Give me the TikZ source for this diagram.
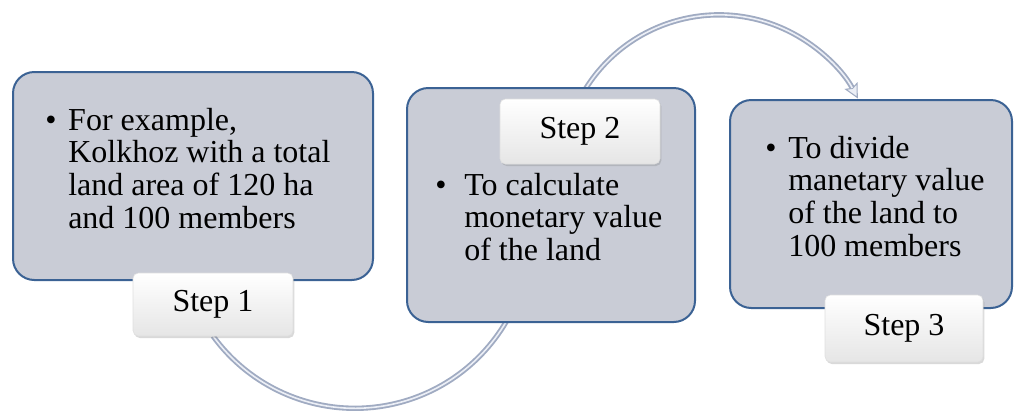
\documentclass[tikz,border=0pt]{standalone}
\usepackage{fontspec}
\setmainfont{Liberation Serif}
\usetikzlibrary{arrows.meta, shadows}

\definecolor{boxfill}{RGB}{201,204,214}
\definecolor{boxline}{RGB}{59,98,148}
\definecolor{tubecol}{RGB}{160,171,194}
\definecolor{tubeshine}{RGB}{236,239,246}

\tikzset{
  stage/.style={draw=boxline, line width=1.5pt, fill=boxfill, rounded corners=16pt},
  tab/.style={rounded corners=4pt, top color=white, bottom color=gray!20, draw=gray!25,
    line width=0.4pt, drop shadow={opacity=0.3, shadow xshift=1pt, shadow yshift=-1.5pt},
    font=\fontsize{24}{24}\selectfont, inner sep=0pt},
  txt/.style={font=\fontsize{24}{24.5}\selectfont, inner sep=0pt, anchor=base west},
  tube/.style={tubecol, line width=4pt},
  shine/.style={tubeshine, line width=1.2pt},
}

\newcommand{\bitem}[2][17.25pt]{\begin{tabular}[t]{@{}p{#1}@{}l@{}}\textbullet &
  \begin{tabular}[t]{@{}l@{}}#2\end{tabular}\end{tabular}}

\begin{document}
\begin{tikzpicture}[x=0.75pt, y=-0.75pt]
    \useasboundingbox (0,0) rectangle (1014,412);

    % named anchor points for the two tubes
    \coordinate (s1foot) at (213,336);
    \coordinate (s2head) at (580,98.5);

    % tube from step 1 to step 2 (runs behind the boxes)
    \draw[tube] (s1foot) arc[start angle=144, end angle=30, radius=175.4];
    \draw[shine] (s1foot) arc[start angle=144, end angle=30, radius=175.4];

    % tube from step 2 to step 3
    \draw[tube, -{Stealth[length=11pt, width=11pt, inset=2pt, line width=0.8pt, fill=tubeshine]}]
        (s2head) arc[start angle=-152.1, end angle=-27.9, radius=157.2];
    \draw[shine, shorten >=9pt] (s2head) arc[start angle=-152.1, end angle=-27.9, radius=157.2];

    % step 1
    \node[stage, minimum width=270pt, minimum height=156pt] (box1) at (193,176) {};
    \node[txt] (text1) at (45,130) {\bitem{For example,\\Kolkhoz with a total\\land area of 120 ha\\and 100 members}};
    \node[tab, minimum width=120pt, minimum height=47.25pt] (step1) at (213,304.5) {Step 1};

    % step 2
    \node[stage, minimum width=216pt, minimum height=175.5pt] (box2) at (551,205) {};
    \node[tab, minimum width=120pt, minimum height=48.75pt] (step2) at (580,131.5) {Step 2};
    \node[txt] (text2) at (435,195) {\bitem[21.75pt]{To calculate\\monetary value\\of the land}};

    % step 3
    \node[stage, minimum width=211.5pt, minimum height=156pt] (box3) at (871,204) {};
    \node[txt] (text3) at (765,158) {\bitem{To divide\\manetary value\\of the land to\\100 members}};
    \node[tab, minimum width=118.5pt, minimum height=50.25pt] (step3) at (904,328.5) {Step 3};
\end{tikzpicture}
\end{document}
